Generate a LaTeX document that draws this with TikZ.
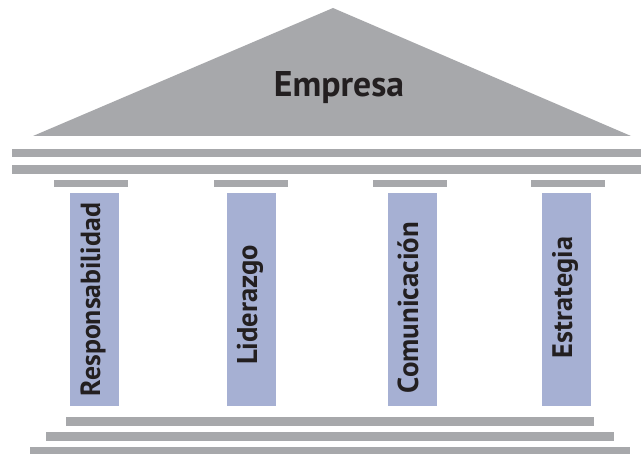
\documentclass[tikz,border=0pt]{standalone}
\usepackage{fontspec}
\setmainfont{PT Sans}
\usepackage{graphicx}
\definecolor{roofgray}{HTML}{A7A8AB}
\definecolor{colblue}{HTML}{A6B0D3}
\definecolor{txt}{HTML}{231F20}
\tikzset{
  slab/.style={fill=roofgray, draw=none},
  pillar/.style={fill=colblue, draw=none},
  lbl/.style={text=txt, font=\bfseries, inner sep=0pt, rotate=90}
}
\begin{document}
\begin{tikzpicture}[x=1pt,y=-1pt]
\useasboundingbox (0,0) rectangle (641,454);
% roof
\fill[slab] (333,8) -- (631,136) -- (33,136) -- cycle;
\node[text=txt, font=\bfseries, inner sep=0pt, anchor=base] (emp) at (339,97) {\resizebox{130pt}{!}{Empresa}};
% entablature
\fill[slab] (12,149) rectangle (641,157.5);
\fill[slab] (12,165) rectangle (641,174);
% capitals
\foreach \a/\b in {54/128,214/288,373/447,531/605}
  \fill[slab] (\a,180) rectangle (\b,187);
% pillars
\fill[pillar] (70,193) rectangle (119,406);
\fill[pillar] (227,193) rectangle (276,406);
\fill[pillar] (388,193) rectangle (437,406);
\fill[pillar] (542,193) rectangle (591,406);
% labels
\node[lbl, anchor=base] (r) at (100,299.5) {\resizebox{193pt}{!}{Responsabilidad}};
\node[lbl, anchor=base] (l) at (257,305) {\resizebox{120pt}{!}{Liderazgo}};
\node[lbl, anchor=base] (c) at (418,307.5) {\resizebox{171pt}{!}{Comunicación}};
\node[lbl, anchor=base] (e) at (572,297.5) {\resizebox{121pt}{!}{Estrategia}};
% base steps
\fill[slab] (66,417) rectangle (594,426);
\fill[slab] (46,432) rectangle (614,441);
\fill[slab] (30,447) rectangle (630,454);
\end{tikzpicture}
\end{document}
